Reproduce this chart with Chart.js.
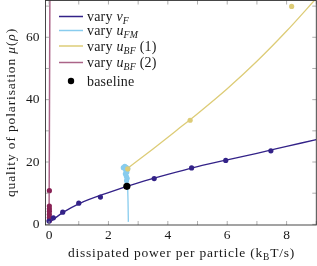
<!DOCTYPE html>
<html>
<head>
<meta charset="utf-8">
<script src="https://cdn.jsdelivr.net/npm/chart.js@4.4.1/dist/chart.umd.min.js"></script>
<style>
  html, body { margin: 0; padding: 0; background: #fff; }
</style>
</head>
<body>
<canvas id="myChart" width="317" height="266"></canvas>
<script>
// values
var vfX = [0, 0.145, 0.46, 1.0, 1.73, 3.54, 4.8, 5.95, 7.47]
var vfY = [1.06, 2.1, 3.9, 6.8, 8.75, 14.7, 18.1, 20.5, 23.6]
var vfFitX = [0, 0.5, 1, 2, 3, 4, 5, 6, 7, 8, 9]
var vfFitY = [0.5, 4.0, 6.6, 10.2, 13.3, 16.0, 18.5, 20.7, 22.8, 25.0, 27.2]

var ufmX = [2.55, 2.5, 2.6, 2.58, 2.62, 2.57, 2.6, 2.63, 2.61, 2.65]
var ufmY = [18.6, 18.2, 18.3, 17.4, 16.8, 16.2, 15.5, 14.8, 14.0, 17.9]
var ufmFitX = [2.62, 2.64, 2.66, 2.67]
var ufmFitY = [18.5, 14, 7, 0.8]

var ubf1X = [2.65, 4.75, 8.17]
var ubf1Y = [17.8, 33.4, 69.9]
var ubf1FitX = [2.65, 3.5, 4.3, 5, 6, 7, 8, 9]
var ubf1FitY = [18, 24.2, 30.2, 35.5, 43.5, 52.3, 62, 72.5]

var ubf2X = [0.01, 0.01, 0.01, 0.01, 0.01, 0.01, 0.01]
var ubf2Y = [1.2, 2.2, 3.2, 4.2, 5.0, 5.9, 10.8]
var ubf2FitX = [0.0, 0.03]
var ubf2FitY = [0, 80]

var baselineX = [2.62]
var baselineY = [12.2]

var xTickLabels = [0, 2, 4, 6, 8]
var yTickLabels = [0, 20, 40, 60]

var serif = '"Liberation Serif"'
var textColor = '#1a1a1a'

var indigo = '#332288'
var cyan = '#88CCEE'
var sand = '#DDCC77'
var wine = '#882255'
var wineLine = 'rgba(136,34,85,0.7)'

function pts(xs, ys) {
  var out = []
  for (var i = 0; i < xs.length; i++) {
    out.push({x: xs[i], y: ys[i]})
  }
  return out
}

function lineSet(label, xs, ys, color, width, order) {
  return {
    label: label,
    data: pts(xs, ys),
    showLine: true,
    borderColor: color,
    borderWidth: width,
    pointRadius: 0,
    cubicInterpolationMode: 'monotone',
    order: order
  }
}

function pointSet(label, xs, ys, color, radius, order) {
  return {
    label: label,
    data: pts(xs, ys),
    showLine: false,
    backgroundColor: color,
    borderColor: color,
    borderWidth: 0,
    pointRadius: radius,
    order: order
  }
}

function setFont(ctx, p, size) {
  var s = p.sub ? size * 0.7 : size
  ctx.font = (p.it ? 'italic ' : '') + s + 'px ' + serif
}

// width of text made of italic / subscript pieces, without extra spacing
function richWidth(ctx, parts, size) {
  var w = 0
  ctx.letterSpacing = '0px'
  for (var i = 0; i < parts.length; i++) {
    setFont(ctx, parts[i], size)
    w += ctx.measureText(parts[i].t).width
  }
  return w
}

function charCount(parts) {
  var n = 0
  parts.forEach(function(p) { n += p.t.length })
  return n
}

function drawRich(ctx, parts, x, y, size, ls) {
  ls = ls || 0
  for (var i = 0; i < parts.length; i++) {
    var p = parts[i]
    setFont(ctx, p, size)
    ctx.letterSpacing = '0px'
    var w = ctx.measureText(p.t).width
    ctx.letterSpacing = ls + 'px'
    ctx.fillText(p.t, x, y + (p.sub ? size * 0.22 : 0))
    x += w + ls * p.t.length
  }
  ctx.letterSpacing = '0px'
  return x
}

var legendRows = [
  {color: indigo, parts: [{t: 'vary '}, {t: 'v', it: true}, {t: 'F', it: true, sub: true}]},
  {color: cyan, parts: [{t: 'vary '}, {t: 'u', it: true}, {t: 'FM', it: true, sub: true}]},
  {color: sand, parts: [{t: 'vary '}, {t: 'u', it: true}, {t: 'BF', it: true, sub: true}, {t: ' (1)'}]},
  {color: wineLine, parts: [{t: 'vary '}, {t: 'u', it: true}, {t: 'BF', it: true, sub: true}, {t: ' (2)'}]},
  {dot: true, parts: [{t: 'baseline'}]}
]
var legendRowY = [16.5, 30.5, 46, 62.5, 81]

var framePlugin = {
  id: 'frame',
  afterDatasetsDraw: function(chart) {
    var ctx = chart.ctx
    var a = chart.chartArea
    var xs = chart.scales.x
    var ys = chart.scales.y
    ctx.save()
    // inward ticks on all four sides
    ctx.strokeStyle = '#9a9a9a'
    ctx.lineWidth = 0.8
    ctx.beginPath()
    xs.ticks.forEach(function(t) {
      var px = xs.getPixelForValue(t.value)
      ctx.moveTo(px, a.bottom)
      ctx.lineTo(px, a.bottom - 4)
      ctx.moveTo(px, a.top)
      ctx.lineTo(px, a.top + 4)
    })
    ys.ticks.forEach(function(t) {
      var py = ys.getPixelForValue(t.value)
      ctx.moveTo(a.left, py)
      ctx.lineTo(a.left + 4, py)
      ctx.moveTo(a.right, py)
      ctx.lineTo(a.right - 4, py)
    })
    ctx.stroke()
    ctx.strokeStyle = '#333'
    ctx.lineWidth = 0.9
    ctx.strokeRect(a.left, a.top, a.right - a.left, a.bottom - a.top)
    ctx.restore()
  },
  afterDraw: function(chart) {
    var ctx = chart.ctx
    var a = chart.chartArea
    ctx.save()
    ctx.fillStyle = textColor
    ctx.textBaseline = 'alphabetic'
    ctx.textAlign = 'left'

    // legend
    for (var i = 0; i < legendRows.length; i++) {
      var row = legendRows[i]
      var ry = legendRowY[i]
      if (row.dot) {
        ctx.beginPath()
        ctx.arc(71, ry, 3.2, 0, Math.PI * 2)
        ctx.fillStyle = '#000'
        ctx.fill()
      } else {
        ctx.beginPath()
        ctx.moveTo(59, ry)
        ctx.lineTo(83, ry)
        ctx.strokeStyle = row.color
        ctx.lineWidth = 1.5
        ctx.stroke()
      }
      ctx.fillStyle = textColor
      drawRich(ctx, row.parts, 87, ry + 4.5, 14, 0.2)
    }

    // x title, spread to the width of the original
    var xParts = [{t: 'dissipated power per particle (k'}, {t: 'B', sub: true}, {t: 'T/s)'}]
    var w = richWidth(ctx, xParts, 13.5)
    var lsx = Math.max(0, (227 - w) / charCount(xParts))
    var wx = w + lsx * charCount(xParts)
    drawRich(ctx, xParts, 181.5 - wx / 2, 257, 13.5, lsx)

    // y title
    var yParts = [{t: 'quality of polarisation '}, {t: 'μ', it: true}, {t: '('}, {t: 'ρ', it: true}, {t: ')'}]
    var wy0 = richWidth(ctx, yParts, 13.5)
    var lsy = Math.max(0, (169 - wy0) / charCount(yParts))
    var wy = wy0 + lsy * charCount(yParts)
    ctx.translate(15, 112.5)
    ctx.rotate(-Math.PI / 2)
    drawRich(ctx, yParts, -wy / 2, 0, 13.5, lsy)
    ctx.restore()
  }
}

var data = {
  datasets: [
    pointSet('baseline', baselineX, baselineY, '#000', 3.6, 0),
    pointSet('vary u_BF (1) pts', ubf1X, ubf1Y, sand, 2.6, 1),
    pointSet('vary v_F pts', vfX, vfY, indigo, 2.6, 2),
    pointSet('vary u_FM pts', ufmX, ufmY, cyan, 2.6, 3),
    pointSet('vary u_BF (2) pts', ubf2X, ubf2Y, wine, 2.6, 4),
    lineSet('vary u_BF (1)', ubf1FitX, ubf1FitY, sand, 1.3, 5),
    lineSet('vary v_F', vfFitX, vfFitY, indigo, 1.3, 6),
    lineSet('vary u_FM', ufmFitX, ufmFitY, cyan, 1.3, 7),
    lineSet('vary u_BF (2)', ubf2FitX, ubf2FitY, wineLine, 1.5, 8)
  ]
}

var config = {
  type: 'scatter',
  data: data,
  options: {
    responsive: false,
    animation: false,
    devicePixelRatio: 1,
    layout: { autoPadding: false, padding: { top: 0.5, right: 0.7, left: 0, bottom: 0 } },
    plugins: {
      legend: { display: false },
      tooltip: { enabled: false }
    },
    scales: {
      x: {
        type: 'linear',
        min: -0.12,
        max: 9,
        afterFit: function(s) {
          s.height = 41
          s.paddingLeft = 0
          s.paddingRight = 0
        },
        grid: { display: false, drawTicks: false },
        border: { display: false },
        ticks: {
          stepSize: 1,
          includeBounds: false,
          autoSkip: false,
          maxRotation: 0,
          padding: 2,
          color: textColor,
          font: { family: serif, size: 13.5 },
          callback: function(v) { return xTickLabels.indexOf(v) >= 0 ? String(v) : '' }
        }
      },
      y: {
        type: 'linear',
        min: -0.2,
        max: 71.8,
        afterFit: function(s) {
          s.width = 45.5
          s.paddingTop = 0
          s.paddingBottom = 0
        },
        grid: { display: false, drawTicks: false },
        border: { display: false },
        ticks: {
          stepSize: 10,
          includeBounds: false,
          autoSkip: false,
          padding: 6,
          color: textColor,
          font: { family: serif, size: 13.5 },
          callback: function(v) { return yTickLabels.indexOf(v) >= 0 ? String(v) : '' }
        }
      }
    }
  },
  plugins: [framePlugin]
}

var myChart = new Chart(document.getElementById('myChart'), config)
</script>
</body>
</html>
